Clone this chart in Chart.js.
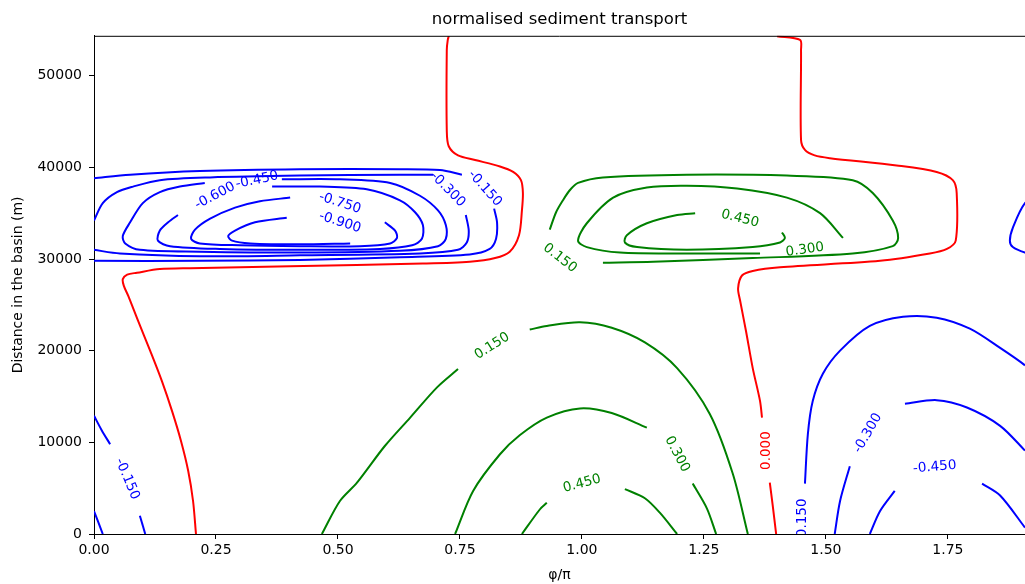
<!DOCTYPE html>
<html>
<head>
<meta charset="utf-8">
<title>normalised sediment transport</title>
<script src="https://cdn.jsdelivr.net/npm/chart.js@4.4.1/dist/chart.umd.min.js"></script>
<style>
  html, body { margin: 0; padding: 0; background: #fff; }
  canvas { display: block; }
</style>
</head>
<body>
<canvas id="transport" width="1025" height="584"></canvas>
<script>
// contour pieces of the normalised transport, points are [phi/pi, distance in basin (m)]
// pieces are broken where an inline level label sits

// level 0.000
const zeroWest = [[0.209,0],[0.203,3600],[0.193,6900],[0.178,10200],[0.160,13400],[0.139,16700],[0.115,20000],[0.090,23300],[0.070,26000],[0.061,27100],[0.059,27800],[0.068,28300],[0.088,28500],[0.135,28900],[0.197,29000],[0.402,29200],[0.674,29500],[0.770,29700],[0.822,30100],[0.852,30800],[0.871,32600],[0.877,35300],[0.879,37200],[0.875,38600],[0.859,39500],[0.832,40100],[0.781,40800],[0.746,41300],[0.727,42300],[0.723,44000],[0.723,52800],[0.725,53900],[0.727,54300]];
const zeroEastTop = [[1.400,54300],[1.447,53900],[1.449,52800],[1.449,43000],[1.457,41900],[1.477,41300],[1.508,41000],[1.645,40200],[1.727,39500],[1.760,38600],[1.768,37200],[1.766,32000],[1.748,31100],[1.713,30600],[1.611,29800],[1.406,29100],[1.350,28700],[1.328,28200],[1.320,26800],[1.324,25500],[1.336,22200],[1.350,18100],[1.365,14500],[1.369,12700]];
const zeroEastLow = [[1.385,5600],[1.391,3100],[1.398,0]];

// positive levels
const pos150North = [[0.934,33200],[0.947,35100],[0.961,36400],[0.975,37500],[0.992,38300],[1.043,38900],[1.215,39200],[1.420,39100],[1.555,38600],[1.596,37200],[1.637,34200],[1.648,32300],[1.637,31400],[1.555,30600],[1.350,30100],[1.146,29700],[1.043,29600]];
const pos300North = [[1.535,32300],[1.488,35000],[1.420,36700],[1.318,37700],[1.215,38000],[1.133,37800],[1.064,36700],[1.010,33900],[0.992,32000],[1.010,31300],[1.078,30700],[1.215,30600],[1.365,30600]];
const pos450North = [[1.232,35000],[1.195,34800],[1.133,33900],[1.092,32600],[1.088,31800],[1.113,31300],[1.215,31000],[1.350,31300],[1.406,31800],[1.416,32300],[1.410,32900]];
const pos150SouthA = [[0.467,0],[0.504,3600],[0.539,5600],[0.596,9600],[0.648,12700],[0.703,16000],[0.746,18000]];
const pos150SouthB = [[0.893,22300],[0.928,22700],[0.996,23100],[1.061,22500],[1.129,20900],[1.195,18100],[1.262,13100],[1.309,6600],[1.340,0]];
const pos300SouthA = [[0.740,0],[0.777,4700],[0.832,8700],[0.873,10800],[0.928,12700],[0.996,13700],[1.061,13200],[1.133,11600]];
const pos300SouthB = [[1.227,5500],[1.256,2800],[1.275,0]];
const pos450SouthA = [[0.877,0],[0.914,2700],[0.928,3400]];
const pos450SouthB = [[1.088,4900],[1.129,3900],[1.160,2300],[1.195,0]];

// negative levels, cell between 30 and 40 km
const neg150CellA = [[0,38800],[0.074,39200],[0.217,39600],[0.422,39800],[0.627,39800],[0.709,39700],[0.754,39200]];
const neg150CellB = [[0.820,35500],[0.826,34000],[0.824,32200],[0.811,31100],[0.770,30500],[0.627,30200],[0.422,29900],[0.217,29800],[0,29800]];
const neg300CellA = [[0,34200],[0.018,36100],[0.047,37300],[0.080,37900],[0.135,38600],[0.238,38900],[0.422,39100],[0.627,39200],[0.695,39200]];
const neg300CellB = [[0.762,34800],[0.768,33100],[0.764,31800],[0.746,31000],[0.668,30600],[0.422,30400],[0.217,30300],[0.053,30600],[0,31000]];
const neg450Cell = [[0.385,38700],[0.504,38700],[0.607,38300],[0.668,36900],[0.705,35300],[0.721,33700],[0.721,32200],[0.705,31400],[0.627,30900],[0.422,30700],[0.217,30800],[0.094,31000],[0.064,31700],[0.059,32500],[0.074,34000],[0.100,36100],[0.135,37300],[0.176,37900],[0.227,38300]];
const neg600Cell = [[0.365,37900],[0.463,37900],[0.559,37600],[0.627,36400],[0.658,35100],[0.674,33700],[0.672,32200],[0.652,31500],[0.586,31100],[0.422,31000],[0.258,31100],[0.156,31400],[0.131,32000],[0.135,33100],[0.152,34000],[0.172,34800]];
const neg750Cell = [[0.596,34000],[0.617,33100],[0.621,32300],[0.607,31700],[0.545,31400],[0.422,31400],[0.299,31500],[0.217,31700],[0.199,32200],[0.207,33200],[0.238,34400],[0.289,35600],[0.340,36300],[0.402,36700]];
const neg900Cell = [[0.525,31700],[0.422,31600],[0.320,31700],[0.283,32000],[0.275,32500],[0.289,33100],[0.330,34000],[0.395,34500]];
const neg150Edge = [[1.930,36400],[1.908,36100],[1.883,33400],[1.877,32000],[1.883,31300],[1.908,30700],[1.930,30500]];

// negative levels, near the mouth
const neg150WestA = [[0,12900],[0.016,11300],[0.033,9800]];
const neg150WestB = [[0.094,2000],[0.105,0]];
const neg300West = [[0,2500],[0.008,1400],[0.018,0]];
const neg150East = [[1.457,5500],[1.463,10900],[1.473,14500],[1.494,17500],[1.529,20000],[1.590,22700],[1.658,23700],[1.727,23600],[1.795,22400],[1.857,20300],[1.908,18400],[1.939,16900]];
const neg300EastA = [[1.518,0],[1.529,3600],[1.549,7400]];
const neg300EastB = [[1.662,14200],[1.727,14600],[1.789,13800],[1.857,11800],[1.908,9100],[1.939,7400]];
const neg450EastA = [[1.590,0],[1.611,2500],[1.641,4700]];
const neg450EastB = [[1.820,5500],[1.857,4200],[1.908,700],[1.918,0]];

// inline labels: [level, phi/pi, distance]
const contourLabels = [
  [-0.15, 0.801, 37700], [-0.30, 0.725, 37600], [-0.45, 0.334, 38600],
  [-0.60, 0.248, 36900], [-0.75, 0.504, 36100], [-0.90, 0.504, 34000],
  [0.15, 0.955, 30100], [0.30, 1.457, 31000], [0.45, 1.324, 34400],
  [0.15, 0.816, 20500], [0.30, 1.195, 8700], [0.45, 1.000, 5500],
  [0.00, 1.379, 9100],
  [-0.15, 0.068, 6000], [-0.15, 1.451, 1500], [-0.30, 1.586, 11000], [-0.45, 1.723, 7300]
];

const xTicks = [0, 0.25, 0.5, 0.75, 1.0, 1.25, 1.5, 1.75];
const yTicks = [0, 10000, 20000, 30000, 40000, 50000];

const pieces = [
  [0, zeroWest], [0, zeroEastTop], [0, zeroEastLow],
  [0.15, pos150North], [0.30, pos300North], [0.45, pos450North],
  [0.15, pos150SouthA], [0.15, pos150SouthB], [0.30, pos300SouthA], [0.30, pos300SouthB],
  [0.45, pos450SouthA], [0.45, pos450SouthB],
  [-0.15, neg150CellA], [-0.15, neg150CellB], [-0.30, neg300CellA], [-0.30, neg300CellB],
  [-0.45, neg450Cell], [-0.60, neg600Cell], [-0.75, neg750Cell], [-0.90, neg900Cell],
  [-0.15, neg150Edge],
  [-0.15, neg150WestA], [-0.15, neg150WestB], [-0.30, neg300West],
  [-0.15, neg150East], [-0.30, neg300EastA], [-0.30, neg300EastB],
  [-0.45, neg450EastA], [-0.45, neg450EastB]
];

// rotation of each inline label, degrees clockwise
const labelAngles = [48, 45, -12, -28, 18, 18, 38, -8, 14, -32, 62, -15, -90, 67, -90, -60, -5];

const levelColour = (lv) => lv < 0 ? '#0000ff' : (lv > 0 ? '#008000' : '#ff0000');

const datasets = pieces.map(([lv, pts]) => ({
  data: pts.map(([x, y]) => ({ x, y })),
  showLine: true,
  borderColor: levelColour(lv),
  borderWidth: 2,
  pointRadius: 0,
  tension: 0.3
}));

const keepTicks = (list) => (scale) => {
  scale.ticks = list.map((v) => ({ value: v }));
};

// level labels written along the contours, plus the top spine
const contourText = {
  id: 'contourText',
  afterDatasetsDraw(chart) {
    const { ctx, chartArea: a, scales: { x, y } } = chart;
    ctx.save();
    ctx.beginPath();
    ctx.rect(a.left, a.top, a.right - a.left, a.bottom - a.top);
    ctx.clip();
    ctx.font = '13.5px "DejaVu Sans"';
    ctx.textAlign = 'center';
    ctx.textBaseline = 'middle';
    contourLabels.forEach(([lv, vx, vy], i) => {
      ctx.save();
      ctx.translate(x.getPixelForValue(vx), y.getPixelForValue(vy));
      ctx.rotate(labelAngles[i] * Math.PI / 180);
      ctx.fillStyle = levelColour(lv);
      ctx.fillText(lv.toFixed(3), 0, 0);
      ctx.restore();
    });
    ctx.restore();

    ctx.save();
    ctx.strokeStyle = '#000';
    ctx.lineWidth = 1;
    ctx.beginPath();
    ctx.moveTo(a.left, a.top + 0.5);
    ctx.lineTo(a.right, a.top + 0.5);
    ctx.stroke();
    ctx.restore();
  }
};

Chart.defaults.font.family = '"DejaVu Sans", sans-serif';
Chart.defaults.color = '#000';

const axisBits = {
  grid: { drawOnChartArea: false, drawTicks: true, tickLength: 5, tickColor: '#000', tickWidth: 1 },
  border: { color: '#000', width: 1 }
};

new Chart(document.getElementById('transport'), {
  type: 'scatter',
  data: { datasets },
  options: {
    responsive: false,
    animation: false,
    events: [],
    layout: { padding: 0 },
    plugins: {
      legend: { display: false },
      tooltip: { enabled: false },
      title: {
        display: true,
        text: 'normalised sediment transport',
        fullSize: false,
        color: '#000',
        font: { size: 16.5, weight: 'normal' },
        padding: { top: 10, bottom: 6 }
      }
    },
    scales: {
      x: {
        type: 'linear',
        min: 0,
        max: 1.908,
        afterBuildTicks: keepTicks(xTicks),
        afterFit: (s) => { s.height = 50; },
        ticks: { font: { size: 14 }, padding: 3, maxRotation: 0, autoSkip: false, callback: (v) => Number(v).toFixed(2) },
        title: { display: true, text: 'φ/π', font: { size: 14 }, padding: { top: 0, bottom: 0 } },
        ...axisBits
      },
      y: {
        type: 'linear',
        min: 0,
        max: 54350,
        afterBuildTicks: keepTicks(yTicks),
        afterFit: (s) => { s.width = 94; },
        ticks: { font: { size: 14 }, padding: 7, autoSkip: false, callback: (v) => String(v) },
        title: { display: true, text: 'Distance in the basin (m)', font: { size: 14 }, padding: { top: 10, bottom: 0 } },
        ...axisBits
      }
    }
  },
  plugins: [contourText]
});
</script>
</body>
</html>
